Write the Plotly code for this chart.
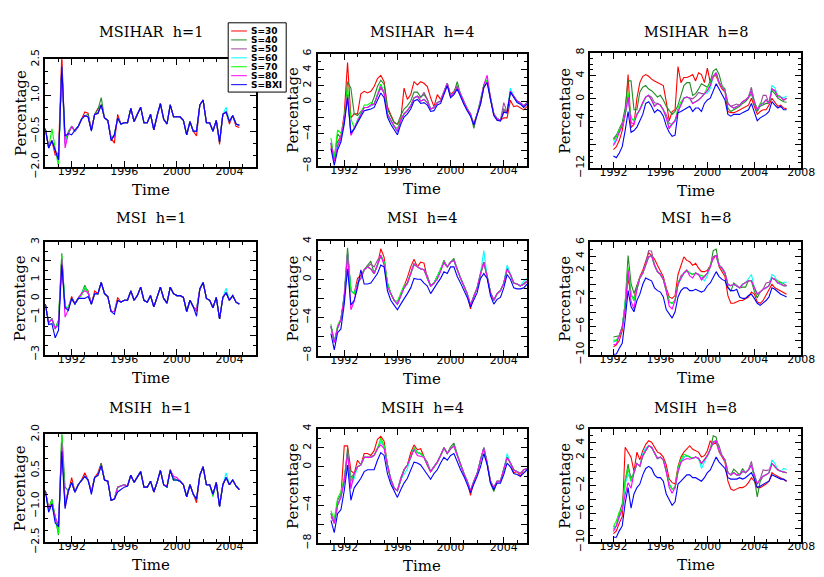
import plotly.graph_objects as go

W, H = 824, 577

SERIES = ["S=30", "S=40", "S=50", "S=60", "S=70", "S=80", "S=BXI"]
COLORS = ["#ff0000", "#228b22", "#9a4a9a", "#00ffff", "#00ff00", "#ff00ff", "#0000ff"]

N_Q = 60
START_YEAR = {"h=1": 1990.0, "h=4": 1991.0, "h=8": 1992.0}
X_TICKS_SHORT = [1992, 1996, 2000, 2004]
X_TICKS_LONG = [1992, 1996, 2000, 2004, 2008]

# ---------------- y tick values / labels ----------------
yt_msihar_h1 = [-2.0, -0.5, 1.0, 2.5]
yl_msihar_h1 = ["−2.0", "−0.5", "1.0", "2.5"]
yt_msihar_h4 = [-8, -6, -4, -2, 0, 2, 4, 6]
yl_msihar_h4 = ["−8", "", "−4", "", "0", "2", "4", "6"]
yt_msihar_h8 = [-12, -8, -4, 0, 4, 8]
yl_msihar_h8 = ["−12", "", "−4", "0", "4", "8"]
yt_msi_h1 = [-3, -2, -1, 0, 1, 2, 3]
yl_msi_h1 = ["−3", "", "−1", "0", "1", "2", "3"]
yt_h4 = [-8, -6, -4, -2, 0, 2, 4]
yl_h4 = ["−8", "", "−4", "", "0", "2", "4"]
yt_h8 = [-10, -8, -6, -4, -2, 0, 2, 4, 6]
yl_h8 = ["−10", "", "−6", "", "−2", "", "2", "4", "6"]
yt_msih_h1 = [-2.5, -1.0, 0.5, 2.0]
yl_msih_h1 = ["−2.5", "−1.0", "0.5", "2.0"]

# ---------------- MSIHAR h=1 ----------------
msihar_h1_base = [-0.4, -1.2, -0.9, -1.3, -1.7, 2.2, -1.0, -0.6, -0.3, -0.5,
                  -0.3, 0.0, 0.15, 0.1, -0.45, 0.2, 0.25, 0.6, 0.05, -0.05,
                  -0.8, -0.65, 0.05, -0.2, -0.15, -0.15, 0.45, -0.1, 0.2, 0.5,
                  -0.15, -0.15, 0.2, -0.45, 0.15, 0.65, 0.0, -0.2, 0.6, 0.1,
                  0.1, 0.1, -0.05, -0.65, -0.1, -0.5, -0.5, 0.6, 0.8, -0.15,
                  -0.15, -0.5, -0.05, -0.95, 0.2, 0.3, -0.1, 0.15, -0.2, -0.25]
msihar_h1_dev = {
    "S=30": {1: 0.1, 3: -0.2, 4: 0.3, 5: 0.5, 12: 0.15, 13: 0.15, 16: 0.2, 21: -0.35, 22: 0.15,
             46: -0.2, 53: -0.1, 56: -0.1, 58: -0.1, 59: -0.1},
    "S=40": {7: 0.1, 13: 0.1, 16: 0.15, 17: 0.3},
    "S=50": {6: 0.1, 28: 0.05},
    "S=60": {5: -0.2, 55: 0.2},
    "S=70": {2: 0.5, 4: -0.3, 6: 0.2},
    "S=80": {6: -0.2, 21: -0.1},
    "S=BXI": {6: 0.3, 8: -0.35, 9: 0.05, 14: -0.05, 20: -0.1},
}

# ---------------- MSIHAR h=4 ----------------
msihar_h4_base = [-5.1, -7.1, -5.5, -4.5, -2.3, 0.9, -3.9, -3.3, -2.3, -1.5,
                  -0.7, -0.7, -0.5, -0.3, 0.9, 1.9, 1.1, -1.5, -2.3, -3.1,
                  -3.7, -2.3, -1.5, -1.1, -0.5, 0.5, 0.7, 0.1, 0.3, -0.1,
                  -0.9, -0.7, -0.1, 0.1, 1.1, 2.3, 0.7, 1.1, 1.9, 0.9,
                  -0.1, -0.9, -1.5, -2.9, -1.5, -0.1, 2.1, 2.7, 0.5, -1.5,
                  -2.1, -2.3, -1.1, -1.3, 1.3, 0.7, 0.1, -0.1, -0.5, -0.1]
msihar_h4_s30 = [-5.5, -7.0, -5.0, -4.3, -1.5, 4.9, -2.0, -1.5, -1.5, 1.0,
                 1.3, 1.1, 1.3, 1.9, 2.9, 3.3, 2.5, -0.6, -1.6, -2.5,
                 -2.8, -2.2, 1.7, 0.3, 0.9, 2.5, 2.1, 2.5, 2.3, 1.9,
                 0.5, -0.6, 0.9, 0.3, 1.3, 2.3, 0.9, 1.3, 2.0, 0.9,
                 -0.2, -1.0, -1.7, -2.7, -1.6, -0.3, 1.8, 2.5, 0.3, -1.6,
                 -2.3, -2.3, -2.0, -2.0, 0.2, -0.6, -0.5, -0.7, -1.0, -0.6]
msihar_h4_bxi = [-5.8, -7.9, -6.0, -5.0, -2.8, 0.5, -3.9, -3.4, -2.6, -1.9,
                 -1.1, -1.0, -0.9, -0.7, 0.3, 1.1, 0.5, -1.9, -2.8, -3.5,
                 -4.1, -2.8, -1.9, -1.5, -0.9, 0.1, 0.3, -0.2, -0.1, -0.4,
                 -1.2, -1.1, -0.4, -0.2, 0.8, 2.0, 0.5, 0.9, 1.6, 0.6,
                 -0.3, -1.1, -1.8, -2.9, -1.6, -0.3, 1.8, 2.4, 0.3, -1.7,
                 -2.3, -2.4, -1.3, -1.4, 1.2, 0.5, -0.1, -0.3, -0.7, -0.3]
msihar_h4_dev = {
    "S=40": {2: 1.5, 5: 1.6, 6: 5.6, 7: 1.8, 8: 0.6, 9: 0.3, 13: 0.9, 14: 1.0, 15: 0.8, 16: 1.1,
             17: 0.6, 18: 0.5, 19: 0.5, 20: 0.9, 21: 0.6, 22: 0.6, 23: 0.6, 24: 0.6, 25: 0.7,
             26: 0.5, 27: 0.5, 28: 0.6, 29: 0.4, 38: 0.6, 43: -0.4, 52: 0.2},
    "S=50": {15: -0.2, 27: 0.4, 28: 0.9, 29: 0.4, 52: 1.0},
    "S=60": {2: 0.3, 15: 0.3, 54: 0.4},
    "S=70": {0: 0.6, 2: 2.0, 3: 0.6, 5: 1.0, 6: 1.8, 10: 0.3, 11: 0.3, 12: 0.4, 15: 0.3, 20: 0.4},
    "S=80": {1: -0.3, 6: -0.3, 12: 0.1, 47: 0.6},
}

# ---------------- MSIHAR h=8 ----------------
msihar_h8_base = [-7.4, -6.6, -5.8, -4.7, -2.7, 0.3, -3.3, -3.8, -2.7, -1.9,
                  -0.8, 0.3, 0.6, -0.2, -1.3, -0.8, -1.1, -1.9, -3.3, -4.9,
                  -4.4, -3.8, -2.2, -1.1, 0.1, 0.3, 0.1, -0.8, -0.5, -0.2,
                  0.3, 0.9, 1.4, 2.3, 3.9, 4.5, 2.8, 2.0, 1.4, -0.8,
                  -1.3, -1.6, -1.3, -1.1, -0.5, -0.2, 0.3, 1.4, -0.5, -1.9,
                  -1.1, -0.8, -0.2, -0.8, 1.7, 1.4, 0.6, 0.3, -0.2, 0.1]
msihar_h8_s30 = [-8.8, -8.3, -7.2, -5.5, -2.7, 4.2, -5.0, -4.4, 0.1, 2.8,
                 3.9, 4.2, 3.9, 3.4, 3.1, 2.8, 2.6, 2.3, -0.5, -3.8,
                 -2.2, -1.9, 5.6, 2.8, 3.7, 3.7, 3.9, 4.2, 3.1, 4.5,
                 4.2, 2.8, 5.3, 2.8, 3.9, 4.0, 2.6, 1.7, 1.2, -2.2,
                 -2.4, -2.4, -2.2, -1.9, -1.6, -1.3, -1.1, 0.1, -1.3, -2.7,
                 -2.2, -1.9, -1.9, -1.1, 0.1, -0.5, -1.3, -1.1, -1.6, -1.7]
msihar_h8_s40 = [-6.9, -6.3, -5.2, -4.1, -1.6, 3.1, 3.1, -1.9, -1.9, 1.2,
                 2.0, 2.3, 1.7, 1.4, 0.9, 0.3, 0.6, -0.2, -1.3, -1.9,
                 -2.7, -2.2, -1.1, 0.6, 2.3, 2.8, 2.8, 0.6, 0.9, 1.7,
                 2.6, 2.3, 2.0, 3.1, 4.8, 5.2, 4.2, 2.3, 1.7, -1.6,
                 -2.2, -1.9, -1.6, -1.3, -0.8, -0.5, 0.1, 0.9, -0.8, -2.2,
                 -1.3, -1.1, -0.8, -0.8, 1.4, 0.9, 0.1, -0.2, -0.5, -0.6]
msihar_h8_bxi = [-9.9, -10.2, -9.4, -8.3, -5.5, -2.2, -5.8, -5.5, -4.9, -3.8,
                 -2.7, -0.8, -0.5, -1.3, -2.4, -1.9, -2.2, -3.0, -4.7, -5.8,
                 -6.5, -6.3, -2.4, -2.2, -1.9, -1.6, -1.3, -2.2, -1.6, -1.6,
                 -2.2, -0.8, -0.2, 0.1, 1.2, 2.6, 1.7, 0.6, -0.2, -2.7,
                 -3.0, -2.7, -2.7, -2.7, -2.4, -2.2, -1.9, -0.8, -2.2, -3.8,
                 -3.3, -3.0, -2.7, -2.2, -0.5, -1.1, -1.6, -1.3, -1.9, -1.9]
msihar_h8_dev = {
    "S=50": {0: 0.4, 1: 0.3, 13: 0.5, 14: 0.6, 18: 0.6, 19: 0.6, 27: 0.8, 28: 0.9, 29: 1.3,
             30: 0.6, 41: 0.5, 42: 0.4, 47: 0.6, 51: 1.4, 52: 0.8},
    "S=60": {0: -0.5, 5: -0.5, 32: -0.4, 33: -0.5, 54: 0.6, 55: 0.5, 58: 0.4, 59: 0.4},
    "S=70": {0: 0.2, 2: 0.5, 5: 0.8, 22: 0.6, 23: 0.6, 32: 0.6, 33: 0.4, 50: 0.3},
    "S=80": {0: -0.7, 1: -0.6, 6: -0.8, 7: -0.6, 10: 0.2, 19: -0.3, 56: -0.3},
}

# ---------------- MSI h=1 ----------------
msi_h1_base = [-0.3, -1.3, -1.1, -1.6, -1.4, 2.1, -0.5, -0.5, 0.0, -0.3,
               0.0, 0.25, 0.6, 0.3, -0.3, 0.25, 0.25, 0.85, 0.25, 0.1,
               -0.7, -0.7, -0.1, -0.2, -0.1, -0.1, 0.4, -0.1, 0.15, 0.6,
               -0.1, -0.2, 0.15, -0.45, 0.05, 0.6, 0.0, -0.25, 0.6, 0.25,
               0.15, 0.15, 0.05, -0.7, -0.1, -0.45, -0.6, 0.5, 0.85, 0.0,
               -0.1, -0.5, 0.05, -1.1, 0.05, 0.3, -0.1, 0.15, -0.2, -0.3]
msi_h1_dev = {
    "S=30": {8: 0.1, 13: 0.1, 15: 0.15, 22: 0.15, 46: -0.1},
    "S=40": {4: 0.25, 5: 0.3, 12: 0.1},
    "S=50": {12: -0.1},
    "S=60": {6: 0.1, 55: 0.25},
    "S=70": {4: 0.2, 5: 0.2, 11: -0.1},
    "S=80": {6: -0.5, 7: -0.1, 12: -0.2},
    "S=BXI": {1: -0.1, 2: -0.25, 3: -0.5, 4: -0.3, 5: -0.3, 7: -0.15, 11: -0.25, 12: -0.6,
              13: -0.2, 21: -0.15, 46: -0.35},
}

# ---------------- MSI h=4 ----------------
msi_h4_base = [-4.9, -6.6, -5.1, -4.2, -1.9, 2.7, -1.2, -1.5, -0.4, 0.1,
               1.0, 1.3, 1.1, 0.6, 1.5, 2.5, 1.8, -0.4, -1.5, -2.2,
               -2.6, -1.7, -0.9, -0.4, 0.5, 1.6, 1.3, 1.1, 1.0, 0.1,
               -0.7, -0.4, 0.3, 1.0, 1.8, 1.3, 1.8, 2.0, 1.0, 0.1,
               -0.7, -1.5, -2.7, -1.7, -0.9, 0.6, 1.8, 0.3, -1.4, -2.2,
               -1.5, -1.2, -0.4, 1.1, 0.5, -0.4, -0.5, -0.7, -0.5, -0.2]
msi_h4_bxi = [-5.7, -7.4, -5.6, -5.2, -2.6, 1.1, -2.7, -2.2, -0.9, 1.0,
              -0.5, -0.5, -0.4, 0.1, 0.6, 1.5, 1.3, -1.2, -2.2, -2.7,
              -3.2, -2.6, -2.1, -1.5, -0.9, 0.1, 0.0, 0.0, -0.4, -0.7,
              -1.5, -0.9, -0.4, 0.1, 0.8, 0.6, 1.3, 1.3, 0.3, -0.4,
              -1.2, -1.9, -2.9, -2.1, -1.4, 0.1, 0.6, 0.1, -1.7, -2.6,
              -2.1, -1.9, -0.9, 0.5, 0.0, -0.9, -1.0, -1.0, -0.9, -0.5]
msi_h4_dev = {
    "S=30": {8: 0.5, 9: 0.3, 15: 0.7, 16: 0.5, 22: 0.3, 23: 0.6, 24: 0.8, 25: 0.5, 27: 0.7,
             28: 0.7, 42: -0.4},
    "S=40": {4: 0.3, 5: 0.6, 11: 0.2, 12: 0.8, 34: 0.2, 37: 0.2},
    "S=50": {12: 0.5, 13: 0.7, 14: 0.5, 29: 0.3},
    "S=60": {46: 1.2, 53: 0.4, 58: 0.3, 59: 0.3},
    "S=70": {0: 0.2, 2: 0.3, 20: 0.3, 21: 0.3, 22: 0.3},
    "S=80": {6: -2.0, 7: -0.8, 16: -0.3, 17: -0.4, 32: -0.3, 33: -0.2},
}

# ---------------- MSI h=8 ----------------
msi_h8_base = [-8.2, -8.0, -7.3, -6.1, -2.7, 2.0, -1.4, -2.3, -0.7, 0.9,
               1.6, 2.7, 3.9, 4.1, 2.7, 1.8, 1.4, 0.7, -0.9, -2.5,
               -2.7, -2.3, 0.0, 0.9, 1.6, 2.0, 1.6, 1.4, 1.6, 1.4,
               0.9, 1.1, 1.6, 2.5, 3.9, 4.1, 2.7, 2.3, 1.6, 0.0,
               -0.2, 0.0, -0.2, -0.5, 0.0, 0.2, 0.5, 0.5, -0.5, -1.4,
               -1.1, -0.7, -0.5, -0.2, 0.9, 0.7, 0.2, 0.0, -0.2, -0.2]
msi_h8_s30 = [-8.9, -8.6, -8.0, -6.6, -3.2, 0.9, -1.6, -2.0, -0.2, 1.1,
              2.0, 3.2, 4.5, 4.1, 3.6, 2.7, 1.8, 1.1, -0.5, -1.8,
              -2.0, -1.6, 1.4, 2.7, 3.9, 3.4, 3.2, 2.7, 3.0, 2.3,
              1.8, 1.8, 2.0, 2.7, 3.6, 4.1, 2.5, 1.8, 1.1, -1.6,
              -2.7, -2.7, -2.5, -2.3, -2.3, -2.0, -1.8, -1.1, -1.4, -2.5,
              -2.7, -2.3, -1.6, -0.9, 0.0, -0.5, -0.7, -0.9, -1.1, -1.4]
msi_h8_bxi = [-10.0, -9.9, -9.1, -8.4, -5.0, -0.9, -3.2, -3.9, -2.3, -1.4,
              0.0, 0.9, 0.7, 0.5, -0.5, -0.9, -1.1, -1.8, -3.6, -4.3,
              -4.8, -3.9, -1.8, -0.9, -0.5, -0.5, -0.9, -0.9, -0.7, -0.9,
              -1.1, -0.9, -0.2, 0.2, 1.1, 1.8, 1.1, 0.7, 0.5, -0.5,
              -0.9, -0.9, -0.7, -1.8, -2.0, -2.0, -1.6, -1.4, -2.0, -2.7,
              -3.0, -2.7, -2.3, -1.8, -0.5, -0.7, -1.1, -1.4, -1.6, -1.8]
msi_h8_dev = {
    "S=40": {0: 0.7, 1: 0.6, 5: 2.1, 6: 1.5, 7: 1.0, 8: 0.4, 34: 0.9, 35: 0.9, 39: -0.3,
             40: -0.8, 41: 0.2, 44: -0.4, 45: -0.6, 48: -0.5, 49: -0.5},
    "S=50": {11: 0.3, 12: 0.9, 13: 0.6, 23: 0.3, 52: 0.7, 53: 0.5, 57: 0.3, 58: 0.3},
    "S=60": {31: -0.6, 32: -0.4, 46: 0.3, 47: 0.9, 54: 0.5, 55: 0.4, 58: 0.5, 59: 0.5},
    "S=70": {0: 0.3, 5: 0.5, 22: 0.3, 30: 0.4, 33: 0.3, 56: 0.2, 57: 0.3},
    "S=80": {0: -0.4, 1: -0.5, 4: -0.8, 6: -1.0, 7: -1.2, 19: -0.6, 20: -0.8, 26: -0.4,
             27: -0.5, 30: -0.3},
}

# ---------------- MSIH h=1 ----------------
msih_h1_base = [-0.35, -1.1, -0.9, -1.45, -1.85, 1.65, -0.9, -0.35, 0.0, -0.4,
                -0.1, 0.1, 0.25, 0.1, -0.4, 0.2, 0.3, 0.7, 0.1, 0.05,
                -0.75, -0.7, -0.2, -0.15, -0.1, -0.15, 0.3, 0.0, 0.2, 0.45,
                -0.2, -0.2, 0.05, -0.4, 0.0, 0.5, -0.1, -0.2, 0.5, 0.1,
                0.1, 0.05, -0.1, -0.6, -0.1, -0.5, -0.7, 0.3, 0.65, -0.1,
                -0.1, -0.5, 0.0, -1.0, -0.1, 0.2, -0.1, 0.1, -0.15, -0.3]
msih_h1_dev = {
    "S=30": {6: -0.1, 8: 0.2, 12: 0.15, 16: 0.1, 17: 0.1, 46: -0.15},
    "S=40": {2: 0.2, 4: -0.35, 5: 0.45, 6: 0.7, 17: 0.1},
    "S=50": {38: 0.05, 39: 0.1},
    "S=60": {1: -0.1, 55: 0.2},
    "S=70": {2: 0.15, 4: -0.3, 5: 0.4, 51: -0.1},
    "S=80": {37: 0.05, 39: 0.15, 40: 0.1},
    "S=BXI": {1: -0.15, 3: -0.25, 5: -0.35, 6: -0.2, 14: -0.1, 22: -0.2, 23: -0.15, 24: -0.1},
}

# ---------------- MSIH h=4 ----------------
msih_h4_base = [-4.9, -5.9, -4.0, -3.2, -1.5, 1.5, -1.5, -0.7, 0.0, 0.2,
                1.0, 1.0, 1.0, 1.2, 1.9, 2.7, 2.2, 0.2, -1.3, -2.2,
                -2.5, -1.3, -0.3, 0.2, 1.0, 2.0, 1.5, 1.4, 1.0, 0.2,
                -0.5, 0.0, 0.5, 1.2, 2.0, 1.4, 1.9, 2.2, 1.2, 0.2,
                -0.7, -1.5, -2.5, -1.5, -0.7, 0.7, 2.0, 0.4, -1.5, -2.2,
                -1.5, -1.5, -0.3, 1.0, 0.4, -0.3, -0.5, -0.7, -0.3, -0.2]
msih_h4_bxi = [-5.6, -6.9, -4.9, -4.5, -2.5, 0.2, -3.5, -2.2, -1.7, -1.2,
               -0.5, -0.3, -0.3, -0.3, 0.7, 1.5, 1.2, -0.7, -1.8, -2.5,
               -3.2, -2.4, -1.7, -1.2, -0.3, 0.5, 0.4, 0.2, -0.3, -0.8,
               -1.3, -0.7, -0.3, 0.4, 1.0, 0.7, 1.2, 1.4, 0.5, -0.3,
               -1.0, -1.8, -2.7, -1.8, -1.0, 0.0, 1.4, 0.2, -1.7, -2.4,
               -1.7, -1.7, -0.8, 0.4, 0.0, -0.7, -0.8, -1.0, -0.7, -0.3]
msih_h4_dev = {
    "S=30": {0: -0.3, 4: 3.7, 5: 0.7, 6: 1.1, 8: 0.7, 10: 0.4, 11: 0.4, 12: 0.2, 13: 0.5,
             14: 1.0, 15: 0.5, 16: 0.5, 24: 0.5, 25: 0.3, 26: 0.3, 27: 0.5, 42: -0.5,
             55: -0.3, 57: -0.3},
    "S=40": {2: 0.5, 3: 0.3, 5: 0.5, 36: 0.2, 37: 0.3, 48: -0.2, 49: -0.4},
    "S=50": {6: 0.4, 21: 0.2, 29: 0.3},
    "S=60": {6: -0.5, 7: -0.5, 22: -0.5, 23: -0.4, 53: 0.4},
    "S=70": {0: 0.3, 1: 0.4, 2: 0.7, 3: 0.6, 4: 0.3, 15: 0.3},
    "S=80": {6: -0.8, 15: -0.4, 16: -0.3, 25: -0.2, 26: -0.3, 27: -0.3},
}

# ---------------- MSIH h=8 ----------------
msih_h8_base = [-8.2, -7.7, -6.4, -5.4, -1.8, 0.4, -1.4, -0.2, 1.1, 0.7,
                2.2, 2.9, 3.6, 3.4, 2.5, 1.8, 2.0, 1.6, 0.0, -1.8,
                -2.5, -2.3, 0.0, 1.3, 2.0, 2.2, 2.0, 1.8, 2.0, 1.8,
                1.1, 1.6, 2.2, 3.1, 4.1, 4.3, 2.9, 2.2, 1.6, -0.2,
                -0.5, -0.2, -0.5, -0.5, 0.0, -0.2, 0.2, 0.9, -0.5, -1.8,
                -1.1, -0.7, -0.5, -0.2, 1.1, 0.7, 0.2, 0.0, -0.1, -0.2]
msih_h8_s30 = [-8.8, -8.4, -7.3, -6.4, 3.4, 2.7, 2.0, 0.0, 2.7, 1.6,
               2.9, 3.8, 4.3, 4.1, 3.4, 2.7, 2.5, 2.0, 0.9, -1.1,
               -1.6, -1.8, 0.7, 2.0, 2.7, 3.1, 3.6, 3.1, 2.9, 2.7,
               2.0, 2.2, 2.9, 4.3, 3.8, 4.1, 2.7, 2.0, 1.3, -1.4,
               -2.5, -2.7, -2.5, -2.3, -2.3, -2.1, -1.6, -0.9, -1.4, -2.3,
               -2.3, -2.1, -1.8, -1.4, -0.2, -0.5, -0.7, -0.9, -1.1, -1.4]
msih_h8_bxi = [-9.3, -9.3, -8.4, -7.7, -4.5, -2.3, -5.2, -3.2, -2.3, -1.8,
               -0.5, 0.4, 0.7, 0.4, -0.5, -0.9, -0.9, -1.4, -3.2, -4.1,
               -4.8, -4.3, -1.8, -1.4, -0.9, -0.5, -0.5, -0.9, -0.9, -1.1,
               -1.4, -0.9, -0.2, 0.2, 1.1, 2.0, 1.3, 0.9, 0.4, -0.9,
               -1.1, -1.1, -1.1, -0.9, -1.1, -0.9, -0.5, -0.2, -1.1, -2.3,
               -2.1, -1.8, -1.6, -1.4, -0.5, -0.7, -0.9, -1.1, -1.1, -1.4]
msih_h8_dev = {
    "S=40": {0: 0.3, 2: 0.5, 3: 0.8, 4: 0.4, 5: 0.6, 34: 0.9, 35: 0.5, 41: 0.5, 42: 0.4,
             44: 0.4, 48: -0.5, 49: -1.8, 50: -0.3},
    "S=50": {6: 0.5, 36: 0.7, 47: 0.5, 51: 0.9, 52: 0.6, 53: 0.4},
    "S=60": {5: -0.8, 10: 0.3, 11: 0.4, 30: -0.7, 31: -0.4, 54: 0.5, 55: 0.4, 58: 0.5, 59: 0.4},
    "S=70": {0: 0.4, 1: 0.7, 2: 0.7, 4: 0.6, 22: 0.5, 23: 0.4, 24: 0.4},
    "S=80": {0: -0.3, 4: -1.5, 5: -2.0, 6: -1.0, 19: -0.5, 20: -0.6, 24: -0.4, 25: -0.4, 26: -0.3},
}

# ---------------- panel layout (pixel boxes: left, top, right, bottom) ----------------
ROW_TITLE_Y = [15, 208, 405]
PANELS = [
    dict(title="MSIHAR  h=1", h="h=1", base=msihar_h1_base, full={}, dev=msihar_h1_dev,
         box=(38, 43, 252, 155), xr=(1990, 2006), xt=X_TICKS_SHORT,
         yr=(-2.0, 2.5), yt=yt_msihar_h1, yl=yl_msihar_h1, ym=0.5),
    dict(title="MSIHAR  h=4", h="h=4", base=msihar_h4_base,
         full={"S=30": msihar_h4_s30, "S=BXI": msihar_h4_bxi}, dev=msihar_h4_dev,
         box=(315, 37, 528, 154), xr=(1990, 2005.75), xt=X_TICKS_SHORT,
         yr=(-8, 6), yt=yt_msihar_h4, yl=yl_msihar_h4, ym=1),
    dict(title="MSIHAR  h=8", h="h=8", base=msihar_h8_base,
         full={"S=30": msihar_h8_s30, "S=40": msihar_h8_s40, "S=BXI": msihar_h8_bxi},
         dev=msihar_h8_dev,
         box=(592, 36, 807, 156), xr=(1990, 2008), xt=X_TICKS_LONG,
         yr=(-12, 8), yt=yt_msihar_h8, yl=yl_msihar_h8, ym=1),
    dict(title="MSI  h=1", h="h=1", base=msi_h1_base, full={}, dev=msi_h1_dev,
         box=(38, 233, 252, 350), xr=(1990, 2006), xt=X_TICKS_SHORT,
         yr=(-3, 3), yt=yt_msi_h1, yl=yl_msi_h1, ym=0.5),
    dict(title="MSI  h=4", h="h=4", base=msi_h4_base, full={"S=BXI": msi_h4_bxi},
         dev=msi_h4_dev,
         box=(315, 232, 528, 351), xr=(1990, 2005.75), xt=X_TICKS_SHORT,
         yr=(-8, 4), yt=yt_h4, yl=yl_h4, ym=1),
    dict(title="MSI  h=8", h="h=8", base=msi_h8_base,
         full={"S=30": msi_h8_s30, "S=BXI": msi_h8_bxi}, dev=msi_h8_dev,
         box=(592, 233, 807, 350), xr=(1990, 2008), xt=X_TICKS_LONG,
         yr=(-10, 6), yt=yt_h8, yl=yl_h8, ym=1),
    dict(title="MSIH  h=1", h="h=1", base=msih_h1_base, full={}, dev=msih_h1_dev,
         box=(38, 433, 252, 545), xr=(1990, 2006), xt=X_TICKS_SHORT,
         yr=(-2.5, 2.0), yt=yt_msih_h1, yl=yl_msih_h1, ym=0.5),
    dict(title="MSIH  h=4", h="h=4", base=msih_h4_base, full={"S=BXI": msih_h4_bxi},
         dev=msih_h4_dev,
         box=(315, 427, 528, 546), xr=(1990, 2005.75), xt=X_TICKS_SHORT,
         yr=(-8, 4), yt=yt_h4, yl=yl_h4, ym=1),
    dict(title="MSIH  h=8", h="h=8", base=msih_h8_base,
         full={"S=30": msih_h8_s30, "S=BXI": msih_h8_bxi}, dev=msih_h8_dev,
         box=(592, 427, 807, 545), xr=(1990, 2008), xt=X_TICKS_LONG,
         yr=(-10, 6), yt=yt_h8, yl=yl_h8, ym=1),
]


def series_values(panel, name):
    if name in panel["full"]:
        return list(panel["full"][name])
    vals = list(panel["base"])
    for idx, d in panel["dev"].get(name, {}).items():
        vals[idx] = round(vals[idx] + d, 3)
    return vals


def px(x):
    return x / W


def py(y):
    return 1 - y / H


TICKFONT = dict(family="DejaVu Sans", size=11, color="black")
TITLEFONT = dict(family="DejaVu Serif", size=14.5, color="black")
LABELFONT = dict(family="DejaVu Serif", size=15, color="black")

fig = go.Figure()
layout = dict(width=W, height=H, margin=dict(l=0, r=0, t=0, b=0),
              paper_bgcolor="white", plot_bgcolor="white", showlegend=False)
annotations = []
shapes = []

for k, p in enumerate(PANELS, start=1):
    x0 = START_YEAR[p["h"]]
    xs = [x0 + 0.25 * i for i in range(N_Q)]
    for name, color in zip(SERIES, COLORS):
        fig.add_trace(go.Scatter(x=xs, y=series_values(p, name), mode="lines", name=name,
                                 line=dict(color=color, width=1.1),
                                 xaxis=f"x{k}", yaxis=f"y{k}", showlegend=False,
                                 hoverinfo="skip"))
    l, t, r, b = p["box"]
    suffix = "" if k == 1 else str(k)
    common = dict(showline=True, linewidth=2, linecolor="black", mirror="allticks",
                  ticks="inside", ticklen=6, tickwidth=1, tickcolor="black",
                  showgrid=False, zeroline=False, tickfont=TICKFONT, fixedrange=True)
    layout[f"xaxis{suffix}"] = dict(
        domain=[px(l), px(r)], range=list(p["xr"]), anchor=f"y{k}",
        tickmode="array", tickvals=p["xt"], ticktext=[str(v) for v in p["xt"]],
        ticklabelstandoff=-7,
        minor=dict(tickmode="linear", tick0=1990, dtick=1, ticks="inside", ticklen=3,
                   tickwidth=1, tickcolor="black", showgrid=False),
        **common)
    layout[f"yaxis{suffix}"] = dict(
        domain=[py(b), py(t)], range=list(p["yr"]), anchor=f"x{k}",
        tickmode="array", tickvals=p["yt"], ticktext=p["yl"], tickangle=-90,
        minor=dict(tickmode="linear", tick0=p["yr"][0], dtick=p["ym"], ticks="inside",
                   ticklen=3, tickwidth=1, tickcolor="black", showgrid=False),
        **common)
    cx = (l + r) / 2
    cy = (t + b) / 2
    annotations.append(dict(text=p["title"], x=px(cx), y=py(ROW_TITLE_Y[(k - 1) // 3]),
                            xref="paper", yref="paper", showarrow=False,
                            xanchor="center", yanchor="middle", font=TITLEFONT))
    annotations.append(dict(text="Time", x=px(cx), y=py(b + 24), xref="paper", yref="paper",
                            showarrow=False, xanchor="center", yanchor="middle",
                            font=LABELFONT))
    annotations.append(dict(text="Percentage", x=px(l - 25), y=py(cy), xref="paper",
                            yref="paper", showarrow=False, textangle=-90,
                            xanchor="center", yanchor="middle", font=LABELFONT))

# ---------------- legend (drawn box) ----------------
LEG_L, LEG_T, LEG_R, LEG_B = 224, 5, 283, 77
shapes.append(dict(type="rect", xref="paper", yref="paper", x0=px(LEG_L), x1=px(LEG_R),
                   y0=py(LEG_B), y1=py(LEG_T), fillcolor="white",
                   line=dict(color="black", width=1), layer="above"))
for i, (name, color) in enumerate(zip(SERIES, COLORS)):
    yy = 13.5 + 9.3 * i
    shapes.append(dict(type="line", xref="paper", yref="paper", x0=px(227), x1=px(243),
                       y0=py(yy), y1=py(yy), line=dict(color=color, width=1), layer="above"))
    annotations.append(dict(text=name, x=px(245), y=py(yy), xref="paper", yref="paper",
                            showarrow=False, xanchor="left", yanchor="middle",
                            font=dict(family="DejaVu Sans", size=9, color="black",
                                      weight="bold")))

layout["annotations"] = annotations
layout["shapes"] = shapes
fig.update_layout(**layout)
fig.write_html("out.html")
